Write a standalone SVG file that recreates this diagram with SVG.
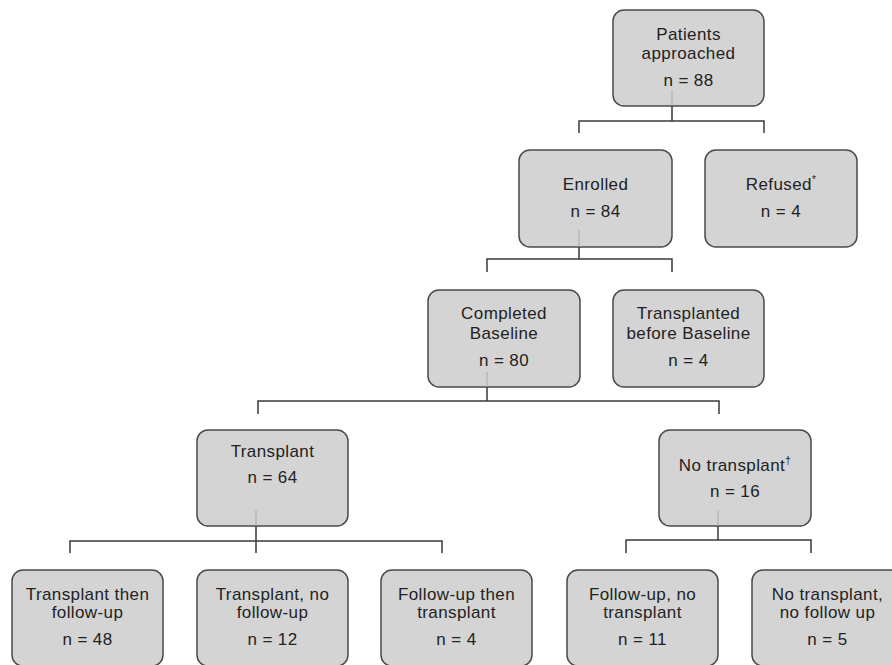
<svg xmlns="http://www.w3.org/2000/svg" width="892" height="665" viewBox="0 0 892 665">
<style>
.box{fill:#d4d4d4;stroke:#4a4a4a;stroke-width:1.5}
.t{font-family:"Liberation Sans",Arial,sans-serif;font-size:17px;letter-spacing:0.4px;fill:#222;text-anchor:middle}
.sup{font-size:10px}
.c{fill:none;stroke:#3a3a3a;stroke-width:1.5}
.f{stroke:#aaaaaa;stroke-width:1}
</style>
<rect width="892" height="665" fill="#ffffff"/>
<g id="n-patients"><rect class="box" x="613" y="10" width="151" height="96" rx="11"/>
<text class="t" x="688.5" y="40">Patients</text><text class="t" x="688.5" y="59">approached</text><text class="t" x="688.5" y="86">n = 88</text></g>
<g id="n-enrolled"><rect class="box" x="519" y="150" width="153" height="97" rx="11"/>
<text class="t" x="595.5" y="190">Enrolled</text><text class="t" x="595.5" y="217">n = 84</text></g>
<g id="n-refused"><rect class="box" x="705" y="150" width="152" height="97" rx="11"/>
<text class="t" x="781" y="190">Refused<tspan class="sup" dy="-7">*</tspan></text><text class="t" x="781" y="217">n = 4</text></g>
<g id="n-completed"><rect class="box" x="428" y="290" width="152" height="97" rx="11"/>
<text class="t" x="504" y="319">Completed</text><text class="t" x="504" y="339">Baseline</text><text class="t" x="504" y="366">n = 80</text></g>
<g id="n-before"><rect class="box" x="613" y="290" width="151" height="97" rx="11"/>
<text class="t" x="688.5" y="319">Transplanted</text><text class="t" x="688.5" y="339">before Baseline</text><text class="t" x="688.5" y="366">n = 4</text></g>
<g id="n-transplant"><rect class="box" x="197" y="430" width="151" height="96" rx="11"/>
<text class="t" x="272.5" y="457">Transplant</text><text class="t" x="272.5" y="483">n = 64</text></g>
<g id="n-notransplant"><rect class="box" x="659" y="430" width="152" height="96" rx="11"/>
<text class="t" x="735" y="471">No transplant<tspan class="sup" dy="-7">†</tspan></text><text class="t" x="735" y="497">n = 16</text></g>
<g id="n-tfu"><rect class="box" x="12" y="570" width="151" height="96" rx="11"/>
<text class="t" x="87.5" y="600">Transplant then</text><text class="t" x="87.5" y="618">follow-up</text><text class="t" x="87.5" y="645">n = 48</text></g>
<g id="n-tnofu"><rect class="box" x="197" y="570" width="151" height="96" rx="11"/>
<text class="t" x="272.5" y="600">Transplant, no</text><text class="t" x="272.5" y="618">follow-up</text><text class="t" x="272.5" y="645">n = 12</text></g>
<g id="n-fut"><rect class="box" x="381" y="570" width="151" height="96" rx="11"/>
<text class="t" x="456.5" y="600">Follow-up then</text><text class="t" x="456.5" y="618">transplant</text><text class="t" x="456.5" y="645">n = 4</text></g>
<g id="n-funot"><rect class="box" x="567" y="570" width="151" height="96" rx="11"/>
<text class="t" x="642.5" y="600">Follow-up, no</text><text class="t" x="642.5" y="618">transplant</text><text class="t" x="642.5" y="645">n = 11</text></g>
<g id="n-nonefu"><rect class="box" x="752" y="570" width="151" height="96" rx="11"/>
<text class="t" x="827.5" y="600">No transplant,</text><text class="t" x="827.5" y="618">no follow up</text><text class="t" x="827.5" y="645">n = 5</text></g>
<g id="connectors">
<line class="f" x1="672" y1="90" x2="672" y2="106"/>
<line class="f" x1="579" y1="230" x2="579" y2="247"/>
<line class="f" x1="487" y1="372" x2="487" y2="387"/>
<line class="f" x1="256" y1="510" x2="256" y2="526"/>
<line class="f" x1="718" y1="511" x2="718" y2="526"/>
<path class="c" d="M672 106V121M579 133V121H764V133"/>
<path class="c" d="M579 247V259M487 272V259H672V272"/>
<path class="c" d="M487 387V401M258 414V401H719V414"/>
<path class="c" d="M256 526V541M70 553V541H442V553M256 541V553"/>
<path class="c" d="M718 526V540M626 553V540H811V553"/>
</g>
</svg>
